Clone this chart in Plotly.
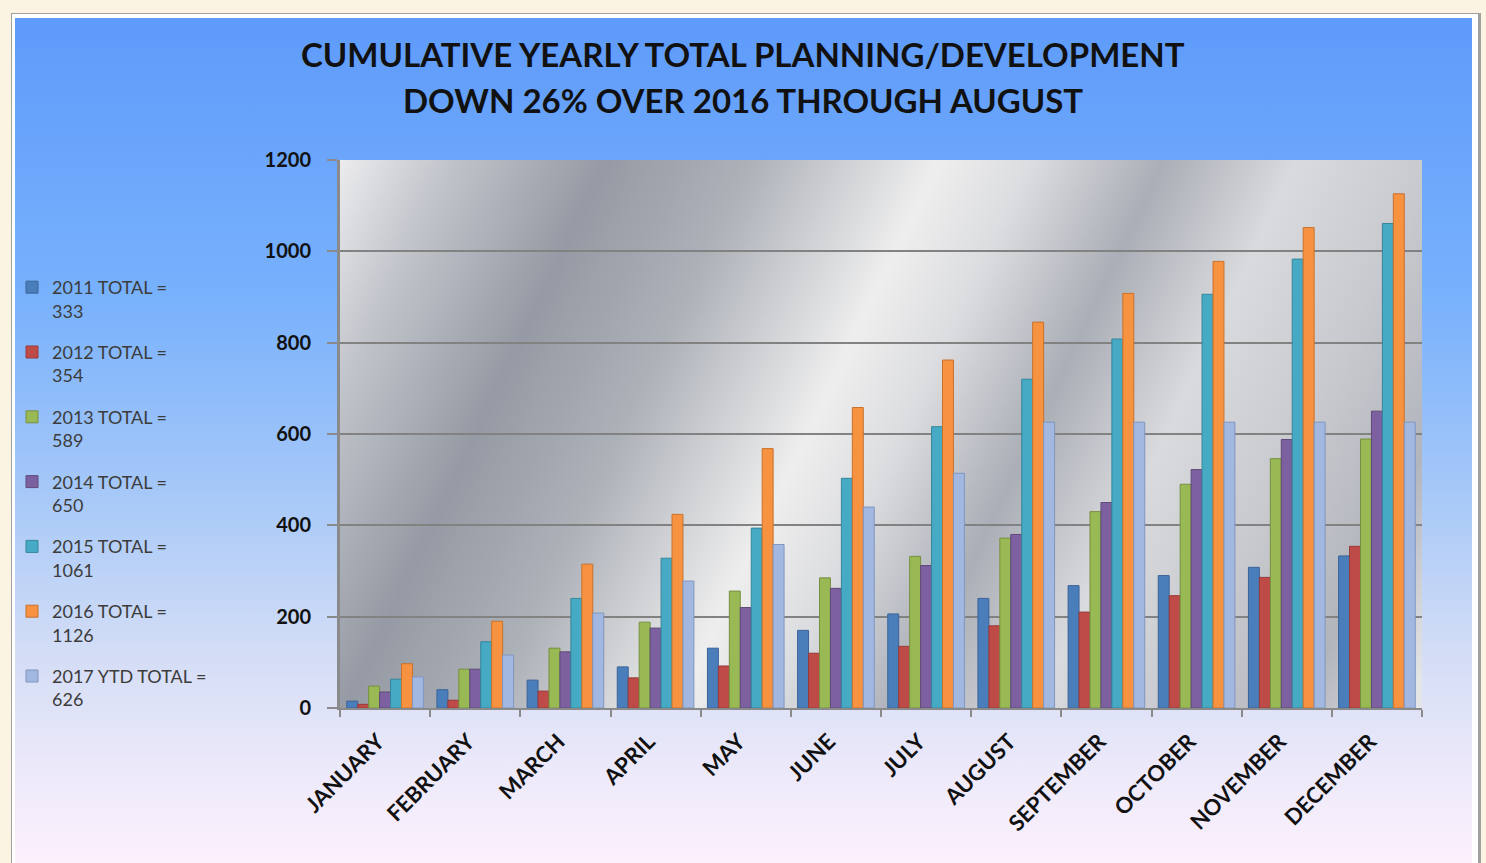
import base64
import plotly.graph_objects as go

# ---- data -------------------------------------------------------------
months = ["JANUARY", "FEBRUARY", "MARCH", "APRIL", "MAY", "JUNE", "JULY",
          "AUGUST", "SEPTEMBER", "OCTOBER", "NOVEMBER", "DECEMBER"]

series_names = ["2011 TOTAL =<br>333", "2012 TOTAL =<br>354", "2013 TOTAL =<br>589",
                "2014 TOTAL =<br>650", "2015 TOTAL =<br>1061", "2016 TOTAL =<br>1126",
                "2017 YTD TOTAL =<br>626"]

y2011 = [15, 40, 61, 90, 131, 170, 206, 240, 268, 290, 308, 333]
y2012 = [8, 17, 37, 66, 92, 120, 135, 180, 210, 246, 286, 354]
y2013 = [48, 85, 131, 188, 256, 285, 332, 372, 430, 490, 546, 589]
y2014 = [35, 85, 123, 175, 220, 262, 312, 380, 450, 522, 588, 650]
y2015 = [63, 145, 240, 328, 394, 503, 616, 720, 808, 906, 983, 1061]
y2016 = [97, 190, 315, 424, 568, 658, 762, 845, 908, 978, 1052, 1126]
y2017 = [68, 116, 208, 278, 358, 440, 514, 626, 626, 626, 626, 626]

yticks = [0, 200, 400, 600, 800, 1000, 1200]

title_lines = ["CUMULATIVE YEARLY TOTAL PLANNING/DEVELOPMENT",
               "DOWN 26% OVER 2016 THROUGH AUGUST"]

# ---- style ------------------------------------------------------------
colors = ["#4a7ebb", "#be4b48", "#98b954", "#7d60a0", "#46aac5", "#f69240", "#a2b8e1"]
edges = ["#3a6398", "#973a38", "#778f41", "#5f4a7a", "#35869b", "#c8722e", "#8096be"]

W, H = 1486, 863
ML, MR, MT, MB = 340, 64, 160, 155
PW, PH = W - ML - MR, H - MT - MB


def svg_uri(svg):
    return "data:image/svg+xml;base64," + base64.b64encode(svg.encode()).decode()


def py_to_paper(py):
    """Pixel row (from top of page) to paper y coordinate."""
    return (H - MB - py) / PH


# page frame + chart-area gradient
page_svg = f"""<svg xmlns='http://www.w3.org/2000/svg' width='{W}' height='{H}' viewBox='0 0 {W} {H}' preserveAspectRatio='none'>
<defs><linearGradient id='bg' x1='0' y1='0' x2='0' y2='1'>
<stop offset='0' stop-color='#5e9bfa'/>
<stop offset='0.33' stop-color='#78b1fc'/>
<stop offset='0.57' stop-color='#a8c9f8'/>
<stop offset='0.75' stop-color='#d3ddf6'/>
<stop offset='0.9' stop-color='#eeeafa'/>
<stop offset='1' stop-color='#fcf0fc'/>
</linearGradient></defs>
<rect x='0' y='0' width='{W}' height='{H}' fill='#fbf4e3'/>
<rect x='11' y='13' width='1470' height='{H}' fill='#a0a0a0'/>
<rect x='12' y='14' width='1466' height='{H}' fill='#ffffff'/>
<rect x='15' y='18' width='1457' height='{H - 18}' fill='url(#bg)'/>
</svg>"""

# brushed-silver plot wall
wall_svg = f"""<svg xmlns='http://www.w3.org/2000/svg' width='{PW}' height='{PH}' viewBox='0 0 {PW} {PH}' preserveAspectRatio='none'>
<defs><linearGradient id='w' gradientUnits='userSpaceOnUse' x1='0' y1='0' x2='{PW}' y2='{PW * 220 / 460:.0f}'>
<stop offset='0' stop-color='#ececee'/>
<stop offset='0.08' stop-color='#c2c5cb'/>
<stop offset='0.2' stop-color='#959aa4'/>
<stop offset='0.31' stop-color='#adb1b8'/>
<stop offset='0.45' stop-color='#eeeeee'/>
<stop offset='0.52' stop-color='#dcdde0'/>
<stop offset='0.62' stop-color='#aaaeb6'/>
<stop offset='0.72' stop-color='#d9dadd'/>
<stop offset='0.82' stop-color='#c8cacf'/>
<stop offset='0.92' stop-color='#b2b5bc'/>
<stop offset='1' stop-color='#e4e5e7'/>
</linearGradient></defs>
<rect x='0' y='0' width='{PW}' height='{PH}' fill='url(#w)'/>
</svg>"""

fig = go.Figure()
all_series = [y2011, y2012, y2013, y2014, y2015, y2016, y2017]
for i, (name, vals) in enumerate(zip(series_names, all_series)):
    fig.add_trace(go.Bar(
        x=months, y=vals, name=name, legendgroup=f"g{i}",
        marker=dict(color=colors[i], line=dict(color=edges[i], width=1)),
    ))

title_font = dict(family="Lato", size=33, color="#111111", weight="bold")
# two title lines, centred on the page rather than the plot area
title_x = (W / 2 - ML) / PW
annotations = [
    dict(text=title_lines[0], x=title_x, xref="paper", y=py_to_paper(54), yref="paper",
         xanchor="center", yanchor="middle", showarrow=False, font=title_font),
    dict(text=title_lines[1], x=title_x, xref="paper", y=py_to_paper(100), yref="paper",
         xanchor="center", yanchor="middle", showarrow=False, font=title_font),
]

fig.update_layout(
    width=W, height=H,
    margin=dict(l=ML, r=MR, t=MT, b=MB, pad=0),
    paper_bgcolor="#fbf4e3",
    plot_bgcolor="rgba(0,0,0,0)",
    barmode="group", bargap=0.15, bargroupgap=0,
    annotations=annotations,
    legend=dict(
        x=12 / W, xref="container", xanchor="left",
        y=1 - 269 / H, yref="container", yanchor="top",
        bgcolor="rgba(0,0,0,0)",
        font=dict(family="Lato", size=18, color="#3c3c3c"),
        valign="top", tracegroupgap=15, itemwidth=30,
        maxheight=560,
    ),
    showlegend=True,
    images=[
        dict(source=svg_uri(page_svg), xref="paper", yref="paper",
             x=-ML / PW, y=1 + MT / PH, sizex=W / PW, sizey=H / PH,
             xanchor="left", yanchor="top", sizing="stretch", layer="below"),
        dict(source=svg_uri(wall_svg), xref="x domain", yref="y domain",
             x=0, y=1, sizex=1, sizey=1,
             xanchor="left", yanchor="top", sizing="stretch", layer="below"),
    ],
)

fig.update_yaxes(
    range=[0, 1200], tickvals=yticks, ticktext=[str(v) for v in yticks],
    showgrid=True, gridcolor="#828282", gridwidth=1.8,
    zeroline=False, showline=True, linecolor="#8a8a8a", linewidth=3,
    ticks="outside", ticklen=10, tickcolor="#8a8a8a", tickwidth=1.5,
    ticklabelstandoff=12,
    tickfont=dict(family="Lato", size=20, color="#111111", weight="bold"),
)
fig.update_xaxes(
    showline=True, linecolor="#8a8a8a", linewidth=2,
    ticks="outside", tickson="boundaries", ticklen=7, tickcolor="#8a8a8a", tickwidth=1.5,
    tickangle=-45, ticklabelstandoff=10, ticklabelshift=-7,
    tickfont=dict(family="Lato", size=22, color="#111111", weight="bold"),
)

fig.write_html("out.html")
